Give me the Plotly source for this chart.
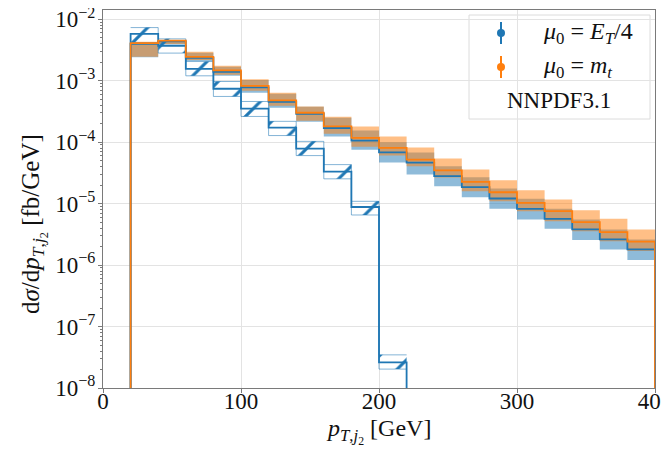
import plotly.graph_objects as go

# ---------------- data ----------------
edges = [20, 40, 60, 80, 100, 120, 140, 160, 180, 200, 220, 240, 260, 280, 300,
         320, 340, 360, 380, 400]
hatch_edges = [20, 40, 60, 80, 100, 120, 140, 160, 180, 200, 220]

# mu0 = m_t (orange)
orange_c = [4.08e-3, 4.50e-3, 2.44e-3, 1.47e-3, 8.26e-4, 4.77e-4, 3.01e-4, 1.80e-4,
            1.17e-4, 8.05e-5, 5.20e-5, 3.48e-5, 2.26e-5, 1.53e-5, 1.03e-5, 7.53e-6,
            4.99e-6, 3.43e-6, 2.40e-6]
orange_hi = [4.28e-3, 4.61e-3, 2.95e-3, 1.75e-3, 1.06e-3, 6.36e-4, 3.81e-4, 2.59e-4,
             1.80e-4, 1.24e-4, 8.15e-5, 5.40e-5, 3.58e-5, 2.40e-5, 1.65e-5, 1.17e-5,
             7.82e-6, 5.66e-6, 3.80e-6]
orange_lo = [2.44e-3, 3.97e-3, 2.18e-3, 1.25e-3, 6.86e-4, 3.92e-4, 2.23e-4, 1.37e-4,
             8.45e-5, 6.04e-5, 4.05e-5, 2.65e-5, 1.59e-5, 1.09e-5, 7.53e-6, 5.18e-6,
             3.56e-6, 2.45e-6, 1.69e-6]

# mu0 = E_T/4 (blue, filled band)
blue_c = [3.97e-3, 4.36e-3, 2.35e-3, 1.39e-3, 7.81e-4, 4.54e-4, 2.90e-4, 1.70e-4,
          1.06e-4, 6.83e-5, 4.65e-5, 2.79e-5, 1.85e-5, 1.21e-5, 8.24e-6, 5.66e-6,
          3.80e-6, 2.61e-6, 1.80e-6]
blue_hi = [4.12e-3, 4.53e-3, 2.84e-3, 1.68e-3, 1.03e-3, 6.12e-4, 3.77e-4, 2.50e-4,
           1.54e-4, 9.93e-5, 6.76e-5, 4.05e-5, 2.69e-5, 1.76e-5, 1.20e-5, 8.24e-6,
           5.52e-6, 3.80e-6, 2.61e-6]
blue_lo = [2.40e-3, 3.83e-3, 2.10e-3, 1.20e-3, 6.36e-4, 3.63e-4, 2.15e-4, 1.24e-4,
           7.55e-5, 4.65e-5, 2.97e-5, 1.92e-5, 1.27e-5, 8.24e-6, 5.52e-6, 3.90e-6,
           2.55e-6, 1.80e-6, 1.21e-6]

# blue hatched histogram
hatch_c = [5.77e-3, 3.69e-3, 1.56e-3, 7.39e-4, 3.50e-4, 1.72e-4, 7.83e-5, 3.32e-5,
           8.81e-6, 2.61e-8]
hatch_hi = [7.31e-3, 4.79e-3, 2.05e-3, 9.70e-4, 4.59e-4, 2.18e-4, 1.03e-4, 4.31e-5,
            1.09e-5, 3.46e-8]
hatch_lo = [4.17e-3, 2.81e-3, 1.20e-3, 5.54e-4, 2.62e-4, 1.28e-4, 6.04e-5, 2.53e-5,
            6.53e-6, 2.03e-8]

x_tickvals = [0, 100, 200, 300, 400]
x_ticktext = ["0", "100", "200", "300", "400"]
y_tickvals = [1e-8, 1e-7, 1e-6, 1e-5, 1e-4, 1e-3, 1e-2]
y_ticktext = ["10<sup>\u22128</sup>", "10<sup>\u22127</sup>", "10<sup>\u22126</sup>",
              "10<sup>\u22125</sup>", "10<sup>\u22124</sup>", "10<sup>\u22123</sup>",
              "10<sup>\u22122</sup>"]

legend_labels = ["<i>\u03bc</i><sub>0</sub> = <i>E<sub>T</sub></i>/4",
                 "<i>\u03bc</i><sub>0</sub> = <i>m<sub>t</sub></i>"]
pdf_label = "NNPDF3.1"
x_title = "<i>p</i><sub><i>T</i>,<i>j</i><sub>2</sub></sub> [GeV]"
y_title = "d<i>\u03c3</i>/d<i>p</i><sub><i>T</i>,<i>j</i><sub>2</sub></sub> [fb/GeV]"

BLUE = "#1f77b4"
ORANGE = "#ff7f0e"
FONT = "Liberation Serif"
FLOOR = 1e-10

# page offset of the browser's default body margin
OFF = 8


def step(e, v, floor=None):
    x = list(e[:-1]) + [e[-1]]
    y = list(v) + [v[-1]]
    if floor is not None:
        x = [e[0]] + x + [e[-1]]
        y = [floor] + y + [floor]
    return x, y


fig = go.Figure()


def band(e, lo, hi, fillcolor, pattern=None, edgecolor=None):
    xl, yl = step(e, lo)
    xh, yh = step(e, hi)
    lw = 1 if edgecolor else 0
    ec = edgecolor if edgecolor else "rgba(0,0,0,0)"
    fig.add_trace(go.Scatter(x=xl, y=yl, mode="lines", line=dict(shape="hv", width=lw, color=ec),
                             showlegend=False, hoverinfo="skip"))
    kw = {}
    if pattern:
        kw["fillpattern"] = pattern
    fig.add_trace(go.Scatter(x=xh, y=yh, mode="lines", line=dict(shape="hv", width=lw, color=ec),
                             fill="tonexty", fillcolor=fillcolor, showlegend=False,
                             hoverinfo="skip", **kw))


# filled bands
band(edges, blue_lo, blue_hi, "rgba(31,119,180,0.5)")
band(edges, orange_lo, orange_hi, "rgba(255,127,14,0.5)")
# hatched band
band(hatch_edges, hatch_lo, hatch_hi, "rgba(0,0,0,0)",
     pattern=dict(shape="/", fgcolor=BLUE, fgopacity=1, bgcolor="rgba(0,0,0,0)", size=22,
                  solidity=0.14, fillmode="overlay"),
     edgecolor="rgba(31,119,180,0.55)")

# central lines
xh, yh = step(hatch_edges, hatch_c, FLOOR)
fig.add_trace(go.Scatter(x=xh, y=yh, mode="lines", line=dict(shape="hv", width=1.8, color=BLUE),
                         showlegend=False, hoverinfo="skip"))
xb, yb = step(edges, blue_c, FLOOR)
fig.add_trace(go.Scatter(x=xb, y=yb, mode="lines", line=dict(shape="hv", width=1.8, color=BLUE),
                         showlegend=False, hoverinfo="skip"))
xo, yo = step(edges, orange_c, FLOOR)
fig.add_trace(go.Scatter(x=xo, y=yo, mode="lines", line=dict(shape="hv", width=1.8, color=ORANGE),
                         showlegend=False, hoverinfo="skip"))

# ---------------- manual legend ----------------
def px2paper(px, py):
    return (px - 103) / 552.0, (388 - py) / 378.0

lx0, ly1 = px2paper(469, 15)
lx1, ly0 = px2paper(650, 119)
fig.add_shape(type="rect", xref="paper", yref="paper", x0=lx0, x1=lx1, y0=ly0, y1=ly1,
              line=dict(color="#dcdcdc", width=1), fillcolor="rgba(255,255,255,0.85)",
              layer="between")

hx, hy1 = px2paper(501, 33)
_, hy2 = px2paper(501, 67)
for col, yy in [(BLUE, hy1), (ORANGE, hy2)]:
    fig.add_trace(go.Scatter(x=[hx], y=[yy], xaxis="x2", yaxis="y2", mode="markers",
                             marker=dict(color=col, size=8),
                             error_y=dict(type="constant", value=11 / 378.0, color=col,
                                          thickness=2, width=0),
                             showlegend=False, hoverinfo="skip"))

tx, _ = px2paper(541, 0)
for lab, yy in zip(legend_labels, [hy1, hy2]):
    fig.add_annotation(x=tx, y=yy, xref="paper", yref="paper", text=lab, showarrow=False,
                       xanchor="left", yanchor="middle", font=dict(family=FONT, size=24, color="#111"))
nx, ny = px2paper(559, 100)
fig.add_annotation(x=nx, y=ny, xref="paper", yref="paper", text=pdf_label, showarrow=False,
                   xanchor="center", yanchor="middle", font=dict(family=FONT, size=23, color="#111"))

# axis titles as annotations for exact placement
ax, ay = px2paper(378, 432)
fig.add_annotation(x=ax, y=ay, xref="paper", yref="paper", text=x_title, showarrow=False,
                   xanchor="center", yanchor="middle", font=dict(family=FONT, size=24, color="#111"))
bx, by = px2paper(34, 224)
fig.add_annotation(x=bx, y=by, xref="paper", yref="paper", text=y_title, showarrow=False,
                   textangle=-90, xanchor="center", yanchor="middle",
                   font=dict(family=FONT, size=25, color="#111"))

minor_vals = [m * 10 ** d for d in range(-9, -1) for m in range(2, 10)]

fig.update_layout(
    width=669, height=449,
    margin=dict(l=103 - OFF, r=14 + OFF, t=10 - OFF, b=61 + OFF, autoexpand=False),
    plot_bgcolor="white", paper_bgcolor="white",
    font=dict(family=FONT, size=22, color="#111"),
    showlegend=False,
    xaxis=dict(range=[0, 400], tickvals=x_tickvals, ticktext=x_ticktext, automargin=False,
               showgrid=True, gridcolor="#e3e3e3", gridwidth=1,
               showline=True, linecolor="#7a7a7a", linewidth=1.2, mirror=True,
               ticks="outside", ticklen=4, tickcolor="#7a7a7a", zeroline=False,
               ticklabelstandoff=-12, ticklabeloverflow="allow",
               tickfont=dict(family=FONT, size=23)),
    yaxis=dict(type="log", range=[-8, -1.85], tickvals=y_tickvals, ticktext=y_ticktext,
               automargin=False,
               showgrid=True, gridcolor="#e3e3e3", gridwidth=1,
               showline=True, linecolor="#7a7a7a", linewidth=1.2, mirror=True,
               ticks="outside", ticklen=4, tickcolor="#7a7a7a", zeroline=False,
               ticklabelstandoff=-2, ticklabeloverflow="allow",
               tickfont=dict(family=FONT, size=23),
               minor=dict(tickvals=minor_vals, ticks="outside", ticklen=2, tickcolor="#7a7a7a",
                          showgrid=False)),
    xaxis2=dict(overlaying="x", range=[0, 1], visible=False, fixedrange=True),
    yaxis2=dict(overlaying="y", range=[0, 1], visible=False, fixedrange=True),
)

fig.write_html("out.html")
